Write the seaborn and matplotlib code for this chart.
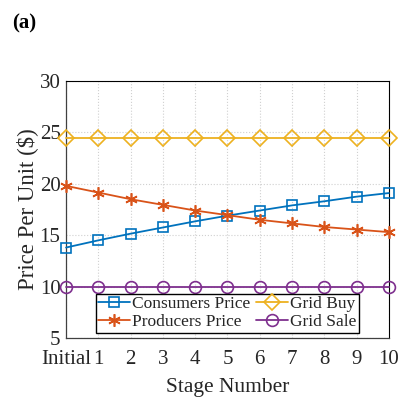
import numpy as np
import pandas as pd
import matplotlib
matplotlib.use("Agg")
import matplotlib.pyplot as plt
import seaborn as sns

# ── DATA ──────────────────────────────────────────
stages = list(range(11))
stage_labels = ["Initial", "1", "2", "3", "4", "5", "6", "7", "8", "9", "10"]
consumers_price = [13.8, 14.5, 15.15, 15.75, 16.35, 16.9, 17.4, 17.9, 18.3, 18.75, 19.1]
producers_price = [19.8, 19.15, 18.5, 17.95, 17.4, 16.95, 16.5, 16.15, 15.8, 15.55, 15.3]
grid_buy = [24.5] * 11
grid_sale = [10.0] * 11

# MATLAB default colours
BLUE = "#0072BD"
ORANGE = "#D95319"
YELLOW = "#EDB120"
PURPLE = "#7E2F8E"

sns.set_style("white")
plt.rcParams["font.family"] = ["Liberation Serif", "DejaVu Serif"]
plt.rcParams["mathtext.fontset"] = "stix"

fig = plt.figure(figsize=(3.98, 4.0), dpi=100)
ax = fig.add_axes([0.166, 0.155, 0.811, 0.6425])

series = [
    ("Consumers Price", consumers_price, BLUE, "s", 6.5),
    ("Producers Price", producers_price, ORANGE, (6, 2, 0), 9),
    ("Grid Buy", grid_buy, YELLOW, "D", 8),
    ("Grid Sale", grid_sale, PURPLE, "o", 8.5),
]

for name, vals, col, mk, ms in series:
    df = pd.DataFrame({"stage": stages, "price": vals})
    sns.lineplot(data=df, x="stage", y="price", ax=ax, color=col, lw=1.3,
                 marker=mk, markersize=ms, markerfacecolor="none",
                 markeredgecolor=col, markeredgewidth=1.2, label=name,
                 clip_on=False, zorder=3)

ax.set_xlim(0, 10)
ax.set_ylim(5, 30)
ax.set_xticks(stages)
ax.set_xticklabels(stage_labels)
ax.set_yticks([5, 10, 15, 20, 25, 30])
ax.tick_params(axis="both", labelsize=15, direction="in", length=4,
               width=0.8, colors="#262626")
ax.tick_params(axis="x", pad=9)
ax.tick_params(axis="y", pad=4)
ax.grid(True, ls=":", lw=0.8, color="#d0d0d0")
for s in ["top", "right"]:
    ax.spines[s].set_color("black")
    ax.spines[s].set_linewidth(0.8)
for s in ["left", "bottom"]:
    ax.spines[s].set_color("#404040")
    ax.spines[s].set_linewidth(0.9)

ax.set_xlabel("Stage Number", fontsize=15.5, color="#262626", labelpad=6)
ax.set_ylabel("Price Per Unit ($)", fontsize=16.5, color="#262626", labelpad=1)

ax.legend(loc="lower center", ncol=2, fontsize=12.5, frameon=True,
          fancybox=False, edgecolor="black", framealpha=1,
          handlelength=1.8, handletextpad=0.15, columnspacing=0.35,
          borderpad=0.15, labelspacing=0.1, borderaxespad=0.3)

fig.text(0.03, 0.93, "(a)", fontsize=15, fontweight="bold", color="black")

plt.savefig("out.png", dpi=100, facecolor="white")
plt.close()
